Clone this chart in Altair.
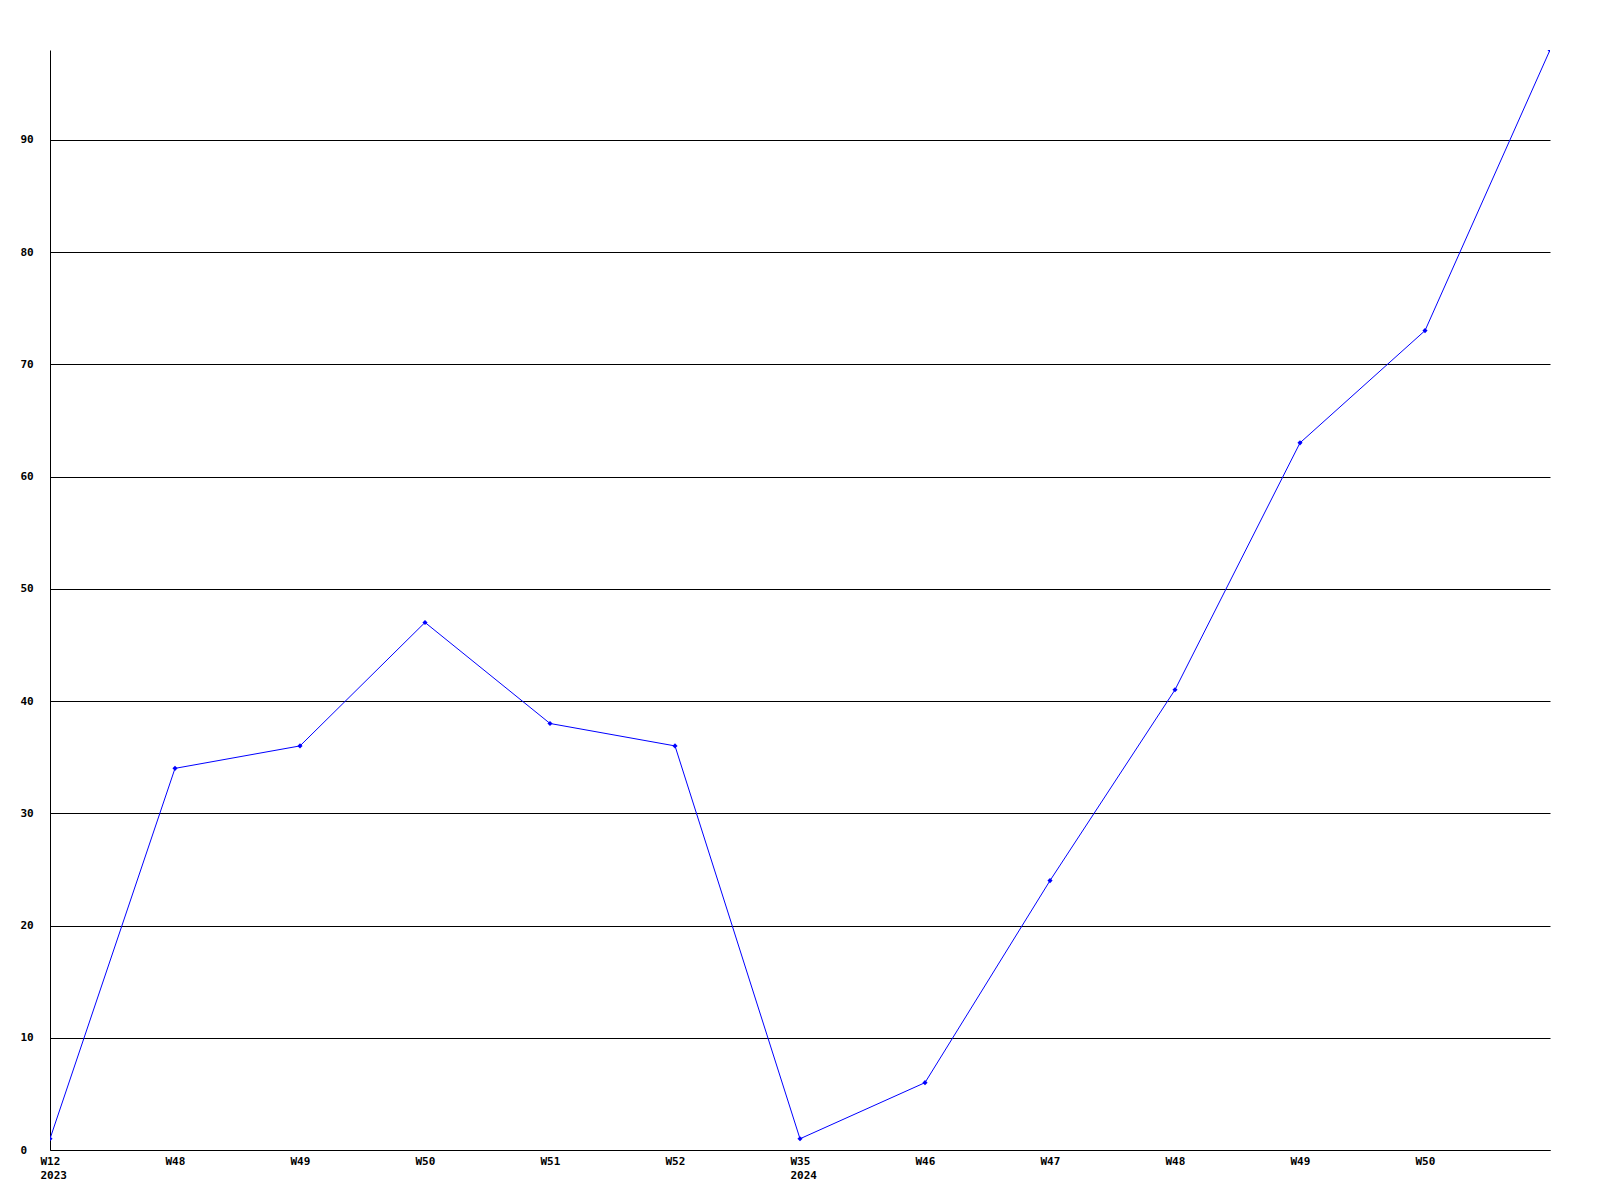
import json
import altair as alt
import pandas as pd

week_keys = ["2023-W12", "2023-W48", "2023-W49", "2023-W50", "2023-W51", "2023-W52",
             "2024-W35", "2024-W46", "2024-W47", "2024-W48", "2024-W49", "2024-W50", "2024-W51"]
tick_labels = ["W12\n2023", "W48", "W49", "W50", "W51", "W52",
               "W35\n2024", "W46", "W47", "W48", "W49", "W50", ""]
values = [1, 34, 36, 47, 38, 36, 1, 6, 24, 41, 63, 73, 98]

df = pd.DataFrame({"idx": list(range(len(values))), "week": week_keys, "value": values})

label_expr = "split(" + json.dumps(tick_labels) + "[datum.value], '\\n')"

FONT = "DejaVu Sans Mono"

x = alt.X("idx:Q",
          scale=alt.Scale(domain=[0, len(values) - 1], nice=False, zero=False),
          axis=alt.Axis(values=list(range(len(values) - 1)), labelExpr=label_expr,
                        title=None, grid=False, ticks=False, tickSize=0,
                        domainColor="black", domainWidth=1,
                        labelAlign="left", labelBaseline="top", labelOffset=-10,
                        labelPadding=5, labelLineHeight=14,
                        labelFont=FONT, labelFontSize=11, labelFontWeight="bold",
                        labelColor="black", labelFlush=False, labelOverlap=False))
y = alt.Y("value:Q",
          scale=alt.Scale(domain=[0, 98], nice=False),
          axis=alt.Axis(values=list(range(0, 100, 10)), title=None,
                        grid=True, gridColor="black", gridWidth=1, gridOpacity=1,
                        ticks=False, tickSize=0, domainColor="black", domainWidth=1,
                        labelAlign="left", labelBaseline="middle", labelPadding=30,
                        labelFont=FONT, labelFontSize=11, labelFontWeight="bold",
                        labelColor="black", labelFlush=False, labelOverlap=False))

line = alt.Chart(df).mark_line(color="#0000ff", strokeWidth=1, clip=True).encode(x=x, y=y)
pts = alt.Chart(df).mark_point(color="#0000ff", shape="diamond", size=26, filled=True,
                               opacity=1, clip=True).encode(x="idx:Q", y="value:Q")

chart = (line + pts).properties(
    width=1500, height=1100,
    background="white",
    autosize=alt.AutoSizeParams(type="none"),
    padding={"left": 42, "top": 42, "right": 40, "bottom": 40},
).configure_view(stroke=None, strokeWidth=0)

chart.save("out.html", embed_options={"renderer": "svg", "actions": False})
